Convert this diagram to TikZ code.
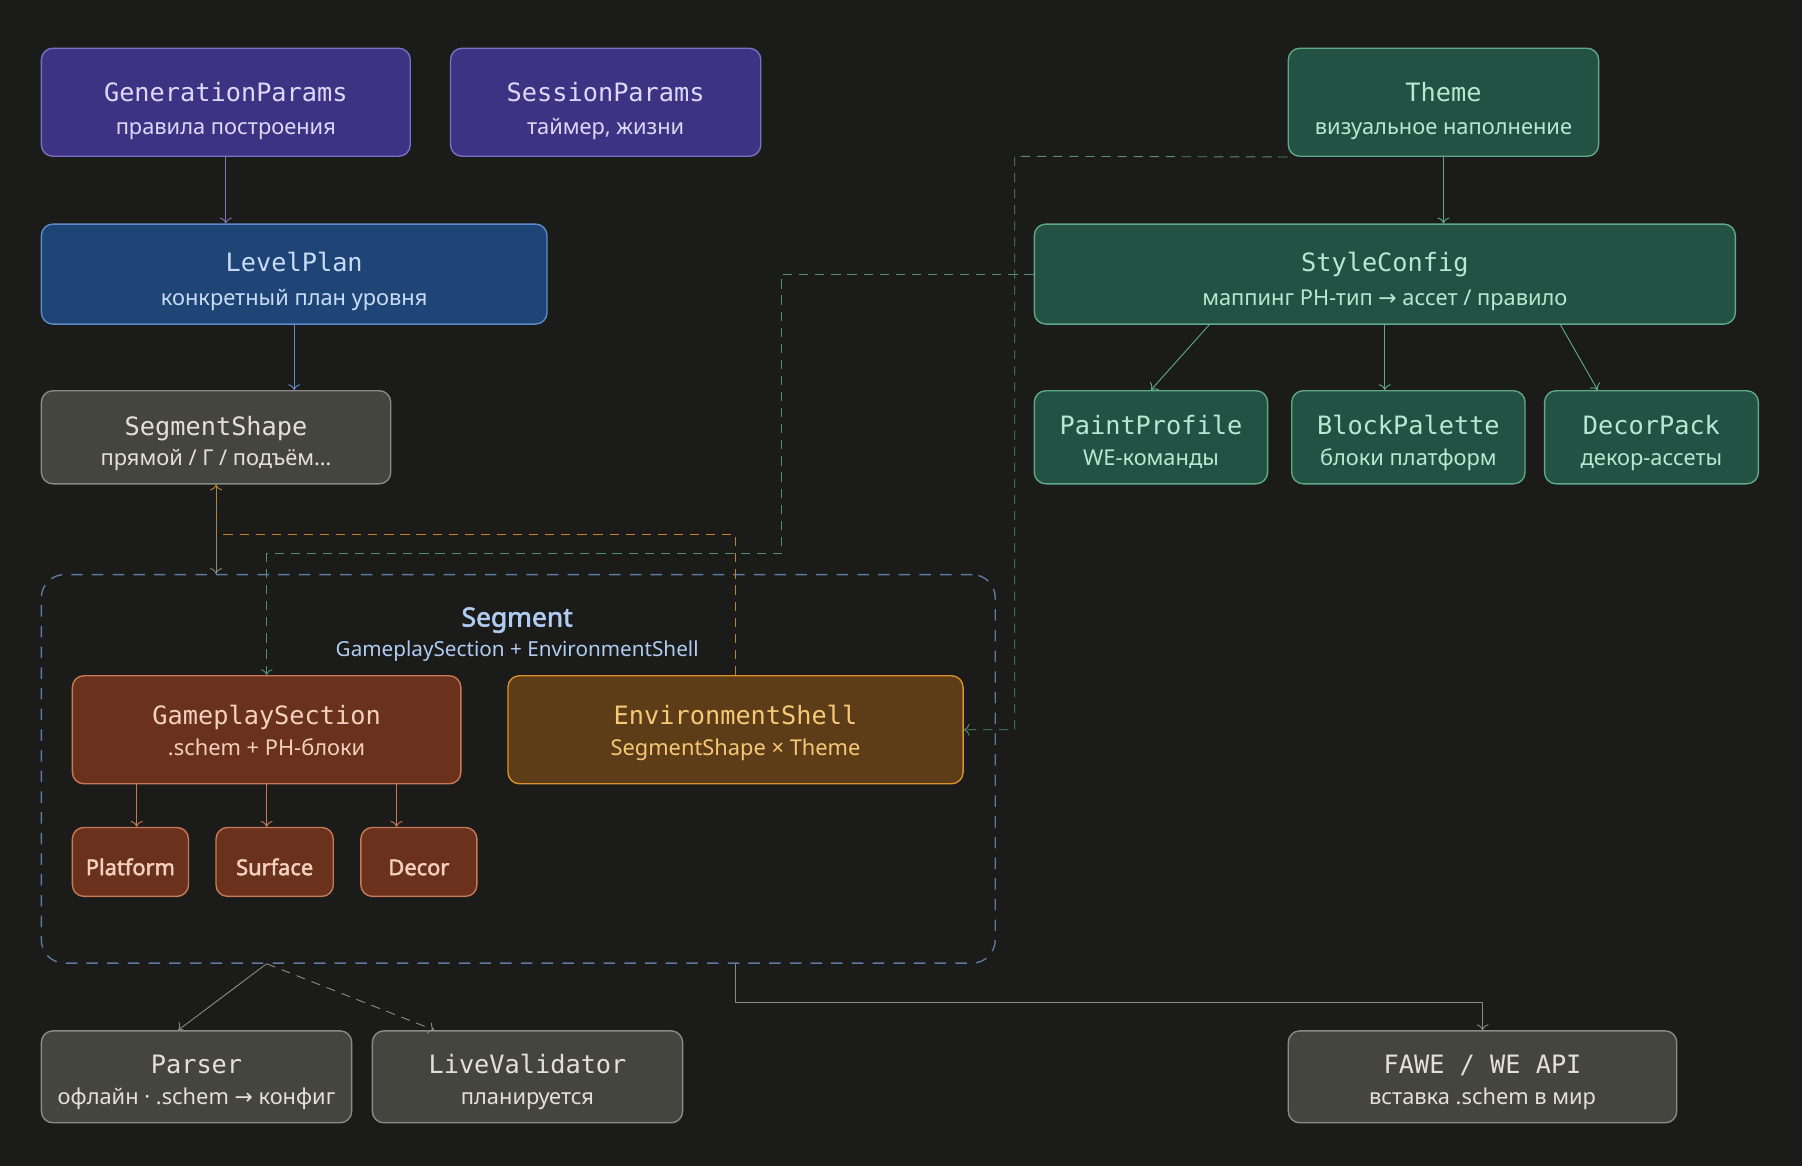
\documentclass[tikz,border=0pt]{standalone}
\usepackage{fontspec}
\setmainfont{Noto Sans}
\newfontfamily\monofont{DejaVu Sans Mono}
\newfontfamily\symfont{DejaVu Sans}
\newfontfamily\heavyfont{Noto Sans}[FakeBold=2.2]
\usetikzlibrary{positioning, arrows.meta, calc}

\definecolor{bg}{HTML}{1B1B19}
\definecolor{purpfill}{HTML}{3C3483}
\definecolor{purpline}{HTML}{7B70C4}
\definecolor{purptext}{HTML}{DCD8F8}
\definecolor{bluefill}{HTML}{1F4476}
\definecolor{blueline}{HTML}{5D8DC9}
\definecolor{bluetext}{HTML}{C8DCF6}
\definecolor{greenfill}{HTML}{235143}
\definecolor{greenline}{HTML}{5FA987}
\definecolor{greentext}{HTML}{B8E8D2}
\definecolor{grayfill}{HTML}{45453F}
\definecolor{grayline}{HTML}{8A8A84}
\definecolor{graytext}{HTML}{E2E0D8}
\definecolor{brownfill}{HTML}{6A321C}
\definecolor{brownline}{HTML}{C8795A}
\definecolor{browntext}{HTML}{F4D0BE}
\definecolor{envfill}{HTML}{5C3D17}
\definecolor{envline}{HTML}{D9912E}
\definecolor{envtext}{HTML}{F6C878}
\definecolor{segline}{HTML}{5E7AA0}
\definecolor{segtext}{HTML}{B0CCF2}

\newcommand{\ttl}[1]{{\monofont\fontsize{11}{12}\selectfont #1}}

\tikzset{
  box/.style={draw, rounded corners=5pt, line width=0.6pt, align=center, inner sep=0pt,
    text depth=2pt, font=\fontsize{9.5}{12}\selectfont},
  sz/.style 2 args={minimum width=#1*0.5pt, minimum height=#2*0.5pt},
  % text height sets where the last line sits
  tall/.style={text height=30pt},
  mid/.style={text height=29.7pt},
  low/.style={text height=26.7pt},
  base/.style={text height=26.2pt},
  inner/.style={text height=24.2pt},
  purpbox/.style={box, fill=purpfill, draw=purpline, text=purptext},
  bluebox/.style={box, fill=bluefill, draw=blueline, text=bluetext},
  greenbox/.style={box, fill=greenfill, draw=greenline, text=greentext},
  graybox/.style={box, fill=grayfill, draw=grayline, text=graytext},
  brownbox/.style={box, fill=brownfill, draw=brownline, text=browntext},
  envbox/.style={box, fill=envfill, draw=envline, text=envtext},
  partbox/.style={brownbox, text height=12pt, text depth=0.5pt, font=\fontsize{9.5}{12}\heavyfont},
  link/.style={-{To[length=2.5pt]}, line width=0.4pt},
  dashlink/.style={link, dash pattern=on 4pt off 3pt}
}

\begin{document}
\begin{tikzpicture}[x=0.5pt, y=-0.5pt]
  \fill[bg] (0,0) rectangle (1568,1015);
  \useasboundingbox (0,0) rectangle (1568,1015);

  % segment group
  \node[draw=segline, dash pattern=on 5pt off 4pt, line width=0.6pt, rounded corners=10pt,
    sz={830}{338}, inner sep=0pt] (seg) at (451,669) {};
  \node[align=center, text=segtext, font=\fontsize{9}{12}\selectfont] (seglabel) at (450,552)
    {{\fontsize{11.5}{12}\heavyfont Segment}\\[1pt]GameplaySection + EnvironmentShell};

  % top row
  \node[purpbox, tall, sz={321}{94}] (gen) at (196.5,89) {\ttl{GenerationParams}\\[2.5pt]правила построения};
  \node[purpbox, tall, sz={270}{94}] (sess) at (527,89) {\ttl{SessionParams}\\[2.5pt]таймер, жизни};
  \node[greenbox, tall, sz={270}{94}] (theme) at (1256,89) {\ttl{Theme}\\[2.5pt]визуальное наполнение};

  \node[bluebox, mid, sz={440}{87}] (plan) at (256,238.5) {\ttl{LevelPlan}\\[3pt]конкретный план уровня};
  \node[greenbox, mid, sz={610}{87}] (style) at (1205,238.5)
    {\ttl{StyleConfig}\\[3pt]маппинг PH-тип {\symfont →} ассет / правило};

  \node[graybox, low, sz={304}{81}] (shape) at (188,380.5) {\ttl{SegmentShape}\\[1pt]прямой / Г / подъём…};
  \node[greenbox, low, sz={203}{81}] (paint) at (1001.5,380.5) {\ttl{PaintProfile}\\[1.5pt]WE-команды};
  \node[greenbox, low, sz={203}{81}] (palette) at (1225.5,380.5) {\ttl{BlockPalette}\\[1.5pt]блоки платформ};
  \node[greenbox, low, sz={186}{81}] (decorpack) at (1437,380.5) {\ttl{DecorPack}\\[1.5pt]декор-ассеты};

  % inside segment
  \node[brownbox, inner, sz={338}{94}] (gameplay) at (232,635) {\ttl{GameplaySection}\\[1.5pt].schem + PH-блоки};
  \node[envbox, inner, sz={396}{94}] (envshell) at (640,635) {\ttl{EnvironmentShell}\\[1.5pt]SegmentShape × Theme};
  \node[partbox, sz={101}{60}] (platform) at (113.5,750) {Platform};
  \node[partbox, sz={102}{60}] (surface) at (239,750) {Surface};
  \node[partbox, sz={101}{60}] (decor) at (364.5,750) {Decor};

  % bottom row
  \node[graybox, base, sz={270}{80}] (parser) at (171,937) {\ttl{Parser}\\[1.5pt]офлайн · .schem {\symfont →} конфиг};
  \node[graybox, base, sz={270}{80}] (validator) at (459,937) {\ttl{LiveValidator}\\[1.5pt]планируется};
  \node[graybox, base, sz={338}{80}] (fawe) at (1290,937) {\ttl{FAWE / WE API}\\[1.5pt]вставка .schem в мир};

  % bends
  \coordinate (thbend) at (883,136);
  \coordinate (stbend) at (680,482);
  \coordinate (orbend) at (188,465);
  \coordinate (fwbend) at (640,872);

  % solid links
  \draw[link, purpline!80!grayline] (gen.south) -- (gen.south |- plan.north);
  \draw[link, blueline] (plan.south) -- (plan.south |- shape.north);
  \draw[link, greenline] (theme.south) -- (theme.south |- style.north);
  \draw[link, greenline] ($(style.south)!0.5!(style.south west)$) -- (paint.north);
  \draw[link, greenline] (style.south) -- (style.south |- palette.north);
  \draw[link, greenline] ($(style.south)!0.5!(style.south east)$)
    -- ($(decorpack.north west)!0.25!(decorpack.north east)$);
  \draw[link, brownline] ($(gameplay.south west)!1/6!(gameplay.south east)$) coordinate (gp1)
    -- (gp1 |- platform.north);
  \draw[link, brownline] (gameplay.south) -- (gameplay.south |- surface.north);
  \draw[link, brownline] ($(gameplay.south west)!5/6!(gameplay.south east)$) coordinate (gp3)
    -- (gp3 |- decor.north);

  % dashed links
  \draw[link, grayline] (shape.south) -- (shape.south |- seg.north);
  \draw[dashlink, greenline!85!black] (theme.south west) -- (thbend) |- (envshell.east);
  \draw[dashlink, greenline!85!black] (style.west) -| (stbend) -| (gameplay.north);
  \draw[dashlink, envline!90!black] (envshell.north) |- (orbend) -- (shape.south);

  % outputs
  \draw[link, grayline] (gameplay.south |- seg.south) -- ($(parser.north)+(-16,0)$);
  \draw[dashlink, grayline] (gameplay.south |- seg.south) -- ($(validator.north)+(-81,0)$);
  \draw[link, grayline] (envshell.south |- seg.south) -- (fwbend) -| (fawe.north);
\end{tikzpicture}
\end{document}
